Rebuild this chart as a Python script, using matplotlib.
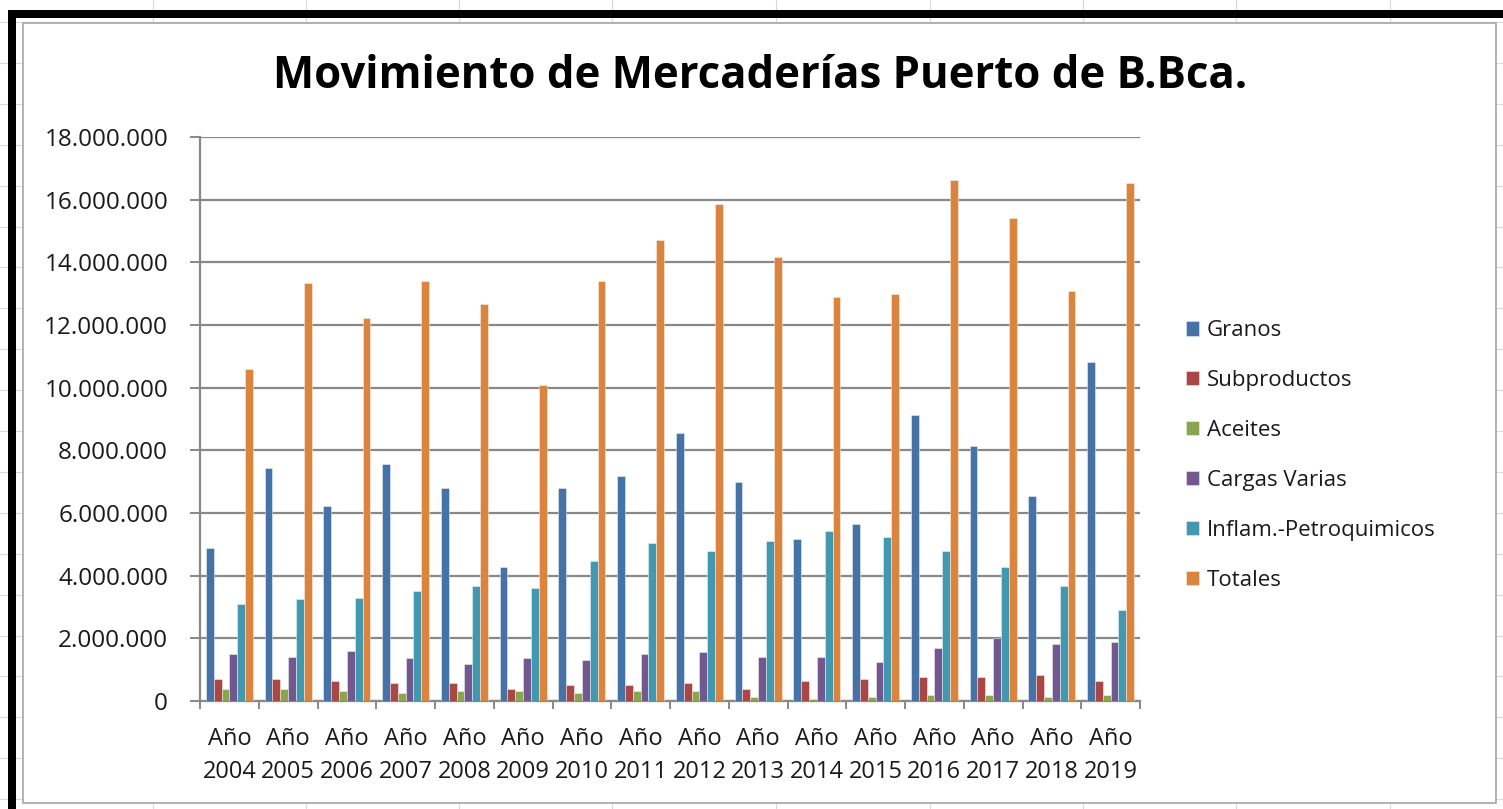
import numpy as np
import matplotlib.pyplot as plt
from matplotlib.ticker import FuncFormatter, FixedLocator
from matplotlib.patches import Rectangle
from matplotlib.lines import Line2D

plt.rcParams['font.family'] = ['Open Sans', 'DejaVu Sans']

anios = ['2004', '2005', '2006', '2007', '2008', '2009', '2010', '2011',
         '2012', '2013', '2014', '2015', '2016', '2017', '2018', '2019']

# toneladas
granos = [4870000, 7430000, 6210000, 7570000, 6790000, 4270000, 6790000, 7180000,
          8540000, 6980000, 5180000, 5640000, 9130000, 8150000, 6530000, 10810000]
subproductos = [710000, 710000, 650000, 580000, 580000, 390000, 520000, 520000,
                580000, 390000, 650000, 710000, 770000, 770000, 840000, 650000]
aceites = [380000, 380000, 320000, 250000, 320000, 320000, 250000, 320000,
           320000, 130000, 60000, 130000, 190000, 190000, 130000, 190000]
cargas_varias = [1490000, 1420000, 1610000, 1360000, 1170000, 1360000, 1300000, 1490000,
                 1550000, 1420000, 1420000, 1230000, 1680000, 2000000, 1810000, 1870000]
inflam_petro = [3110000, 3240000, 3300000, 3500000, 3680000, 3620000, 4470000, 5050000,
                4790000, 5120000, 5440000, 5250000, 4790000, 4270000, 3680000, 2910000]
totales = [10610000, 13330000, 12230000, 13400000, 12680000, 10100000, 13400000, 14700000,
           15860000, 14170000, 12880000, 13000000, 16630000, 15400000, 13070000, 16520000]

series = ['Granos', 'Subproductos', 'Aceites', 'Cargas Varias',
          'Inflam.-Petroquimicos', 'Totales']
valores = [granos, subproductos, aceites, cargas_varias, inflam_petro, totales]
colores = ['#4572A7', '#AA4643', '#89A54E', '#71588F', '#4198AF', '#DB843D']

W, H = 1503, 809
fig = plt.figure(figsize=(W / 100, H / 100), dpi=100)

# cuadricula de la planilla detras del grafico
for yy in np.arange(22, H, 40.9):
    fig.add_artist(Line2D([0, 1], [1 - yy / H, 1 - yy / H], color='#d9d9d9', lw=0.8, zorder=0))
for xx in [153, 306, 459, 612, 776, 930, 1083, 1236, 1390]:
    fig.add_artist(Line2D([xx / W, xx / W], [0, 1], color='#d9d9d9', lw=0.8, zorder=0))

# area del grafico
fig.add_artist(Rectangle((23 / W, 1 - 803 / H), (1496 - 23) / W, (803 - 23) / H,
                         facecolor='white', edgecolor='#a6a6a6', lw=1.2, zorder=1))
# borde negro
fig.add_artist(Rectangle((8 / W, 0), 8 / W, 1 - 10 / H, facecolor='black', edgecolor='none', zorder=2))
fig.add_artist(Rectangle((8 / W, 1 - 17.5 / H), 1 - 8 / W, 7.5 / H, facecolor='black', edgecolor='none', zorder=2))

ax = fig.add_axes([200 / W, 1 - 701 / H, (1140 - 200) / W, (701 - 137) / H])
ax.set_zorder(3)
ax.patch.set_alpha(0)

x = np.arange(len(anios))
ancho = 1 / 7.5
for i, (nombre, vals, col) in enumerate(zip(series, valores, colores)):
    ax.bar(x + (i - 2.5) * ancho, vals, ancho, color=col, label=nombre,
           edgecolor=(1, 1, 1, 0.6), linewidth=0.5, zorder=3)

ax.set_xlim(-0.5, len(anios) - 0.5)
ax.set_ylim(0, 18000000)
ax.set_yticks(np.arange(0, 18000001, 2000000))
ax.yaxis.set_major_formatter(FuncFormatter(lambda v, p: f'{v:,.0f}'.replace(',', '.')))
ax.grid(axis='y', color='#888888', lw=1.6, zorder=0)
ax.set_axisbelow(True)

ax.set_xticks(x)
ax.set_xticklabels(['Año\n' + a for a in anios], linespacing=1.5)
ax.xaxis.set_minor_locator(FixedLocator(np.arange(-0.5, len(anios), 1)))
ax.tick_params(axis='x', which='major', length=0, pad=19, labelsize=17, colors='#1a1a1a')
ax.tick_params(axis='x', which='minor', length=6, width=1.4, color='#888888')
ax.tick_params(axis='y', length=7, width=1.4, color='#888888', pad=16, labelsize=17.5,
               labelcolor='#1a1a1a')

for s in ['top', 'right']:
    ax.spines[s].set_visible(False)
for s in ['left', 'bottom']:
    ax.spines[s].set_color('#888888')
    ax.spines[s].set_linewidth(1.6)

fig.text(760 / W, 1 - 76 / H, 'Movimiento de Mercaderías Puerto de B.Bca.',
         ha='center', va='center', fontsize=31.5, fontweight='bold', color='black', zorder=4)

leg = fig.legend(loc='center left', bbox_to_anchor=(1186 / W, 1 - 455.5 / H),
                 frameon=False, fontsize=16, handlelength=0.6, handleheight=0.6,
                 handletextpad=0.35, labelspacing=1.3, borderpad=0, borderaxespad=0)
for t in leg.get_texts():
    t.set_color('#1a1a1a')

fig.savefig('out.png', dpi=100)
